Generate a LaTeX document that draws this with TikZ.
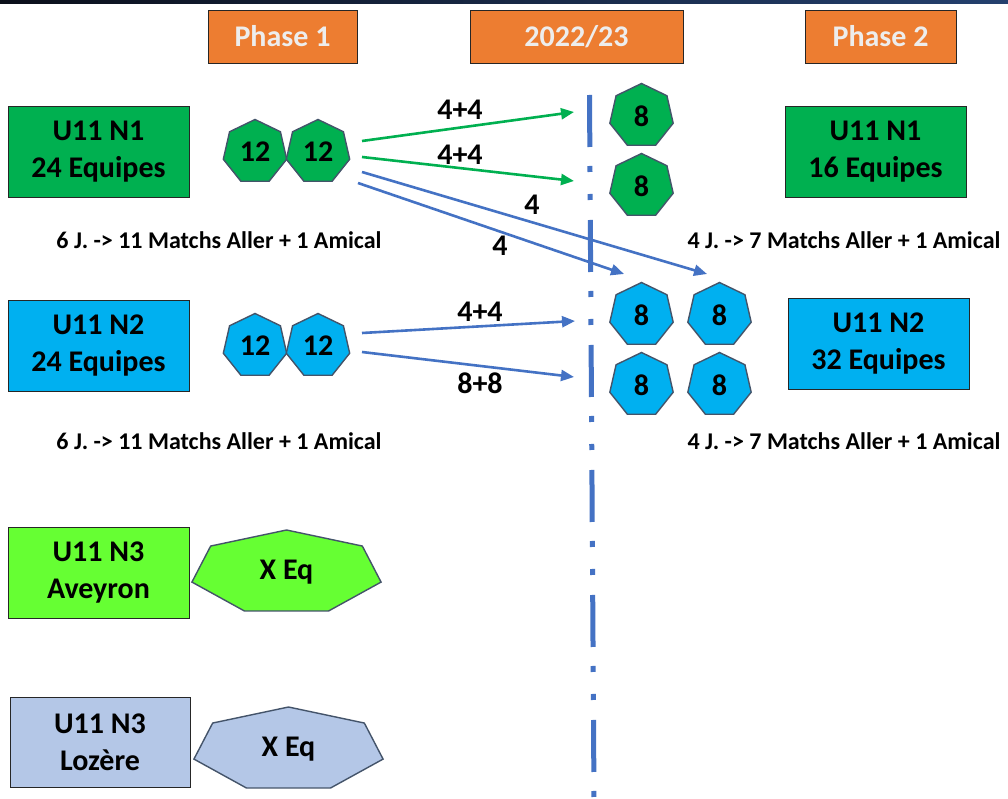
\documentclass[tikz,border=0pt]{standalone}
\usepackage{fontspec}
\setmainfont{Carlito}
\usetikzlibrary{shapes.geometric,arrows.meta}
\definecolor{orangeH}{HTML}{ED7D31}
\definecolor{greenD}{HTML}{00B050}
\definecolor{blueN}{HTML}{00B0F0}
\definecolor{greenL}{HTML}{66FF33}
\definecolor{lozere}{HTML}{B4C7E7}
\definecolor{arrblue}{HTML}{4472C4}
\definecolor{heptb}{HTML}{44546A}
\definecolor{barL}{HTML}{0B0F1A}
\definecolor{barR}{HTML}{24406E}
\begin{document}
\begin{tikzpicture}[x=1pt,y=-1pt,
  hdr/.style={draw=black!85, line width=0.8pt, fill=orangeH, text=white!93!black,
    font=\bfseries\fontsize{30}{34}\selectfont, minimum width=149pt, minimum height=53pt, inner sep=0pt},
  box/.style={draw=black!85, line width=0.8pt, minimum width=181pt, minimum height=91pt,
    align=center, font=\bfseries\fontsize{30}{37}\selectfont, inner sep=0pt},
  hept/.style={regular polygon, regular polygon sides=7, minimum size=65pt, inner sep=0pt,
    draw=heptb, line width=1.4pt, font=\bfseries\fontsize{30}{32}\selectfont},
  xeqline/.style={draw=heptb, line width=1.4pt},
  xeqtext/.style={font=\bfseries\fontsize{30}{32}\selectfont},
  note/.style={font=\bfseries\fontsize{24}{28}\selectfont},
  lbl/.style={font=\bfseries\fontsize{30}{32}\selectfont},
  arr/.style={line width=2.6pt, -{Triangle[length=13pt,width=11pt]}},
  dashline/.style={draw=arrblue, line width=5pt,
    dash pattern=on 52pt off 19pt on 6pt off 22pt on 6pt off 20pt}
]
\useasboundingbox (0,0) rectangle (1008,799);
\fill[white] (0,0) rectangle (1008,799);
\shade[left color=barL, right color=barR] (0,0) rectangle (1008,4);

% headers
\node[hdr] (h1) at (282.5,36.5) {Phase 1};
\node[hdr, minimum width=213pt] (h2) at (576.5,36.5) {2022/23};
\node[hdr, minimum width=151pt] (h3) at (880.5,36.5) {Phase 2};

% left boxes
\node[box, fill=greenD] (l1) at (98.5,151.5) {U11 N1\\24 Equipes};
\node[box, fill=blueN] (l2) at (98.5,345.5) {U11 N2\\24 Equipes};
\node[box, fill=greenL] (l3) at (98.5,572.5) {U11 N3\\Aveyron};
\node[box, fill=lozere, minimum width=180pt, minimum height=90pt] (l4) at (100,742) {U11 N3\\Lozère};

% right boxes
\node[box, fill=greenD] (r1) at (875.5,151.5) {U11 N1\\16 Equipes};
\node[box, fill=blueN] (r2) at (878.5,343.5) {U11 N2\\32 Equipes};

% notes
\node[note] (n1) at (219,240) {6 J. -> 11 Matchs Aller + 1 Amical};
\node[note] (n2) at (219,441) {6 J. -> 11 Matchs Aller + 1 Amical};
\node[note] (n3) at (844,240) {4 J. -> 7 Matchs Aller + 1 Amical};
\node[note] (n4) at (844,441) {4 J. -> 7 Matchs Aller + 1 Amical};

% dash-dot separator
\coordinate (dtop) at (589.5,95);
\coordinate (dbot) at (594,799);
\draw[dashline] (dtop) -- (dbot);

% phase 1 heptagons
\node[hept, fill=greenD] (a1) at (255,152) {12};
\node[hept, fill=greenD] (a2) at (318,152) {12};
\node[hept, fill=blueN] (b1) at (255,346) {12};
\node[hept, fill=blueN] (b2) at (318,346) {12};

% phase 2 heptagons
\node[hept, fill=greenD] (g1) at (641.5,116) {8};
\node[hept, fill=greenD] (g2) at (641.5,186) {8};
\node[hept, fill=blueN] (c1) at (641.5,315) {8};
\node[hept, fill=blueN] (c2) at (719.5,315) {8};
\node[hept, fill=blueN] (c3) at (641.5,385) {8};
\node[hept, fill=blueN] (c4) at (719.5,385) {8};

% X Eq heptagons
\coordinate (xac) at (286.5,572.6);
\coordinate (xbc) at (288.5,749.6);
\draw[xeqline, fill=greenL, shift={(xac)}]
  (90:97pt and 42.6pt) -- (141.43:97pt and 42.6pt) -- (192.86:97pt and 42.6pt)
  -- (244.29:97pt and 42.6pt) -- (295.71:97pt and 42.6pt) -- (347.14:97pt and 42.6pt)
  -- (38.57:97pt and 42.6pt) -- cycle;
\node[xeqtext] (xa) at (xac) {X Eq};
\draw[xeqline, fill=lozere, shift={(xbc)}]
  (90:97pt and 42.6pt) -- (141.43:97pt and 42.6pt) -- (192.86:97pt and 42.6pt)
  -- (244.29:97pt and 42.6pt) -- (295.71:97pt and 42.6pt) -- (347.14:97pt and 42.6pt)
  -- (38.57:97pt and 42.6pt) -- cycle;
\node[xeqtext] (xb) at (xbc) {X Eq};

% arrow end points
\coordinate (s1) at (362,141);
\coordinate (e1) at (574,112);
\coordinate (s2) at (362,157);
\coordinate (e2) at (574,181);
\coordinate (s3) at (362,172);
\coordinate (e3) at (707,274);
\coordinate (s4) at (358,183);
\coordinate (e4) at (624,274);
\coordinate (s5) at (362,333);
\coordinate (e5) at (575,321);
\coordinate (s6) at (362,352);
\coordinate (e6) at (574,377);

\draw[arr, draw=greenD] (s1) -- (e1);
\draw[arr, draw=greenD] (s2) -- (e2);
\draw[arr, draw=arrblue] (s3) -- (e3);
\draw[arr, draw=arrblue] (s4) -- (e4);
\draw[arr, draw=arrblue] (s5) -- (e5);
\draw[arr, draw=arrblue] (s6) -- (e6);

% arrow labels
\node[lbl] (t1) at (460,110) {4+4};
\node[lbl] (t2) at (460,155) {4+4};
\node[lbl] (t3) at (532,205) {4};
\node[lbl] (t4) at (500,246) {4};
\node[lbl] (t5) at (480,312) {4+4};
\node[lbl] (t6) at (480,383) {8+8};
\end{tikzpicture}
\end{document}
